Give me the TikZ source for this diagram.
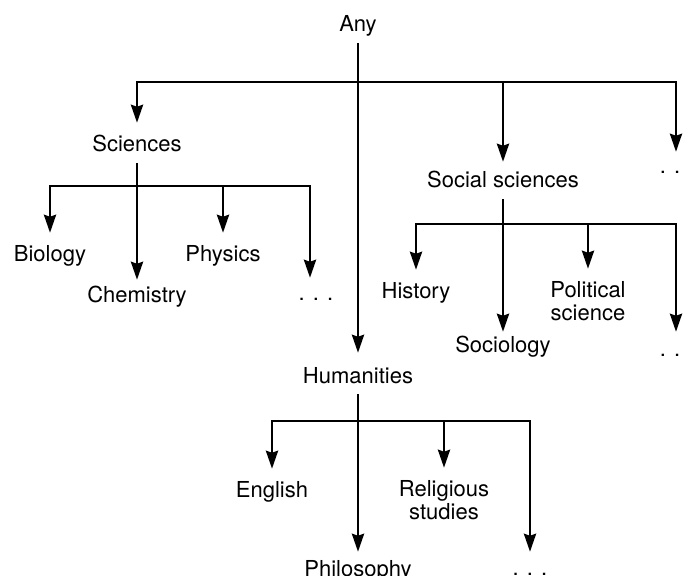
\documentclass[tikz,border=0pt]{standalone}
\usepackage{fontspec}
\setmainfont{TeX Gyre Heros}
\usetikzlibrary{arrows.meta}
\begin{document}
\begin{tikzpicture}[x=1bp,y=-1bp,
  txt/.style={font=\fontsize{22bp}{23bp}\selectfont, anchor=base, inner xsep=2bp, inner ysep=6bp},
  lbl/.style={txt, text height=16bp, text depth=5bp},
  lbl2/.style={txt, align=center},
  link/.style={line width=2.9bp, line join=miter},
  arr/.style={link, -{Stealth[length=18bp,width=12bp,inset=2bp]}},
]
\useasboundingbox (0,0) rectangle (683,576);

% labels (two-line labels are placed by the baseline of their last line)
\node[lbl] (any)    at (358,32)  {Any};
\node[lbl] (sci)    at (137,152) {Sciences};
\node[lbl] (soc)    at (503,188) {Social sciences};
\node[lbl] (dotsT)  at (670,174) {. .};
\node[lbl] (hum)    at (358,383) {Humanities};

\node[lbl] (bio)    at (50,261)  {Biology};
\node[lbl] (chem)   at (137,302) {Chemistry};
\node[lbl] (phy)    at (223,261) {Physics};
\node[lbl] (dotsS)  at (316,300) {. . .};

\node[lbl] (hist)   at (416,298) {History};
\node[lbl] (socio)  at (503,352) {Sociology};
\node[lbl2] (pol)   at (588,320) {Political\\science};
\node[lbl] (dotsR)  at (670,356) {. .};

\node[lbl] (eng)    at (272,497) {English};
\node[lbl] (phil)   at (358,576) {Philosophy};
\node[lbl2] (rel)   at (444,519) {Religious\\studies};
\node[lbl] (dotsH)  at (530,575) {. . .};

% junction points on the horizontal bars
\coordinate (tb)  at (358,82);
\coordinate (tbs) at (soc |- tb);
\coordinate (sb)  at (137,186);
\coordinate (sbp) at (phy |- sb);
\coordinate (ob)  at (503,224);
\coordinate (obp) at (pol |- ob);
\coordinate (hb)  at (358,421);
\coordinate (hbr) at (rel |- hb);

% top level
\draw[arr, shorten >=8bp] (any) -- (hum);
\draw[arr, shorten >=7bp] (tb) -| (sci);
\draw[arr] (tb) -| ([xshift=6bp]dotsT.north);
\draw[arr, shorten >=4bp] (tbs) -- (soc);

% sciences
\draw[arr] (sci) -- (chem);
\draw[arr, shorten >=6bp] (sb) -| (bio);
\draw[arr] (sb) -| ([xshift=-6bp]dotsS.north);
\draw[arr, shorten >=6bp] (sbp) -- (phy);

% social sciences
\draw[arr, shorten >=-2bp] (soc) -- (socio);
\draw[arr, shorten >=6bp] (ob) -| (hist);
\draw[arr, shorten >=2bp] (ob) -| ([xshift=6bp]dotsR.north);
\draw[arr, shorten >=6bp] (obp) -- (pol);

% humanities
\draw[arr, shorten >=2bp] (hum) -- (phil);
\draw[arr, shorten >=6bp] (hb) -| (eng);
\draw[arr, shorten >=1bp] (hb) -| (dotsH);
\draw[arr, shorten >=6bp] (hbr) -- (rel);
\end{tikzpicture}
\end{document}
